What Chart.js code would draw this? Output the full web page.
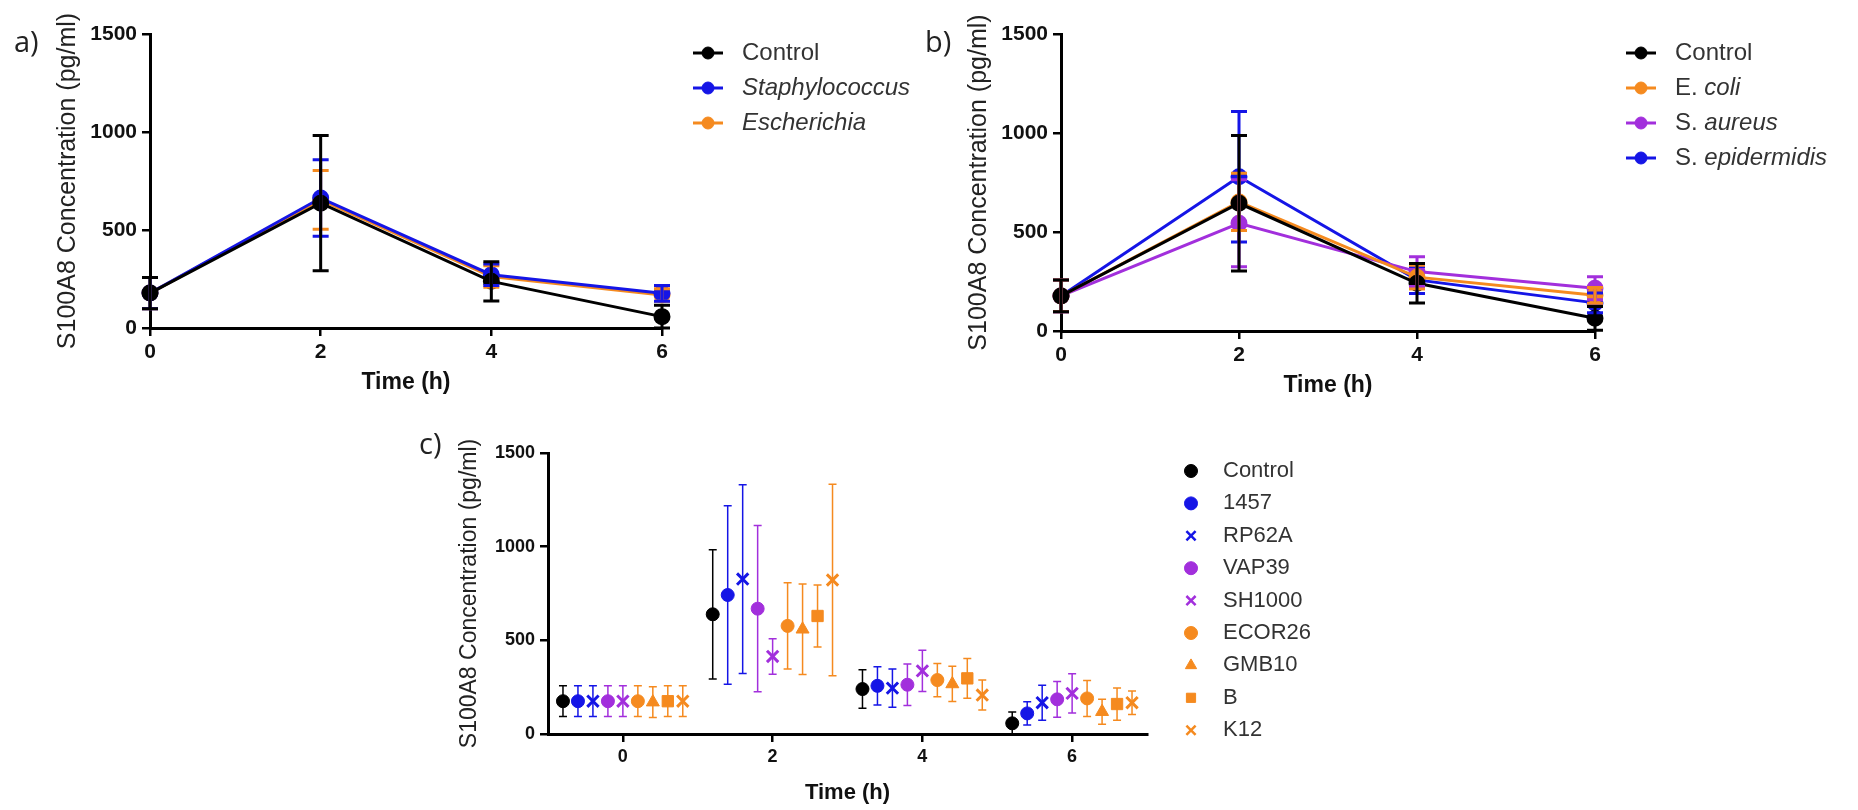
<!DOCTYPE html>
<html lang="en">
<head>
  <meta charset="UTF-8"/>
  <title>S100A8 concentration over time</title>
  <script src="https://cdn.jsdelivr.net/npm/chart.js"></script>
  <style>
    html, body { margin: 0; padding: 0; background: #fff; }
    body { width: 1858px; height: 810px; position: relative; overflow: hidden; }
    canvas { position: absolute; left: 0; top: 0; }
    .tag { position: absolute; font-family: 'Open Sans', 'Liberation Sans', sans-serif; font-size: 29px; color: #222; line-height: 1; }
  </style>
</head>
<body>
  <canvas id="chartA" width="1858" height="810"></canvas>
  <canvas id="chartB" width="1858" height="810"></canvas>
  <canvas id="chartC" width="1858" height="810"></canvas>
  <div class="tag" style="left:14px;top:26px">a)</div>
  <div class="tag" style="left:925px;top:26px">b)</div>
  <div class="tag" style="left:419px;top:428px">c)</div>

  <script>
    // --- data (pg/ml, mean and SD) ---
    const times = [0, 2, 4, 6];
    const yTicks = [0, 500, 1000, 1500];

    // a) by genus
    const aNames = ['Control', 'Staphylococcus', 'Escherichia'];
    const aControl = [178, 637, 238, 58];
    const aControlSd = [80, 345, 100, 58];
    const aStaph = [178, 663, 272, 177];
    const aStaphSd = [80, 195, 55, 40];
    const aEsch = [178, 654, 263, 168];
    const aEschSd = [80, 150, 55, 32];

    // b) by species
    const bNames = ['Control', 'E. coli', 'S. aureus', 'S. epidermidis'];
    const bControl = [177, 645, 241, 64];
    const bControlSd = [80, 342, 100, 60];
    const bEcoli = [177, 652, 272, 180];
    const bEcoliSd = [80, 145, 60, 40];
    const bAureus = [177, 544, 300, 216];
    const bAureusSd = [80, 220, 75, 58];
    const bEpi = [177, 779, 258, 142];
    const bEpiSd = [80, 330, 68, 50];

    // c) by strain
    const cNames = ['Control', '1457', 'RP62A', 'VAP39', 'SH1000', 'ECOR26', 'GMB10', 'B', 'K12'];
    const cControl = [175, 639, 240, 57];
    const cControlSd = [82, 345, 103, 60];
    const c1457 = [175, 742, 257, 110];
    const c1457Sd = [82, 477, 102, 62];
    const cRP62A = [175, 827, 245, 167];
    const cRP62ASd = [82, 504, 102, 93];
    const cVAP39 = [175, 669, 263, 185];
    const cVAP39Sd = [82, 444, 111, 95];
    const cSH1000 = [175, 414, 337, 217];
    const cSH1000Sd = [82, 95, 110, 105];
    const cECOR26 = [175, 577, 288, 190];
    const cECOR26Sd = [82, 230, 89, 96];
    const cGMB10 = [170, 559, 267, 119];
    const cGMB10Sd = [82, 242, 94, 67];
    const cB = [175, 630, 297, 160];
    const cBSd = [82, 165, 106, 86];
    const cK12 = [175, 822, 208, 167];
    const cK12Sd = [82, 511, 80, 63];

    // --- styling ---
    const BLACK = '#000000', BLUE = '#1515e6', ORANGE = '#f58a1f', PURPLE = '#a22fdc';
    const SANS = "'Liberation Sans', Arial, sans-serif";

    const pts = vals => vals.map((v, i) => ({ x: times[i], y: v }));
    // strains are spread side by side around each time point
    const dodged = (vals, k, n) => vals.map((v, i) => ({ x: times[i] + (k - (n - 1) / 2) * 0.2, y: v }));

    const errorBars = {
      id: 'errorBars',
      afterDatasetsDraw(chart, args, o) {
        const { ctx, scales: { x, y } } = chart;
        ctx.save();
        ctx.lineWidth = o.width;
        for (let d = chart.data.datasets.length - 1; d >= 0; d--) {
          const ds = chart.data.datasets[d];
          if (!ds.errors) continue;
          ctx.strokeStyle = ds.errColor;
          ds.data.forEach((p, i) => {
            const e = ds.errors[i];
            const px = x.getPixelForValue(p.x);
            const top = y.getPixelForValue(p.y + e);
            const bot = y.getPixelForValue(Math.max(p.y - e, 0));
            ctx.beginPath();
            ctx.moveTo(px, top); ctx.lineTo(px, bot);
            ctx.moveTo(px - o.cap, top); ctx.lineTo(px + o.cap, top);
            ctx.moveTo(px - o.cap, bot); ctx.lineTo(px + o.cap, bot);
            ctx.stroke();
          });
        }
        ctx.restore();
      }
    };

    const sideLegend = {
      id: 'sideLegend',
      afterDraw(chart, args, o) {
        const ctx = chart.ctx;
        ctx.save();
        chart.data.datasets.forEach((ds, i) => {
          const y = o.top + i * o.row;
          ctx.strokeStyle = ds.errColor;
          ctx.fillStyle = ds.errColor;
          if (o.line) {
            ctx.lineWidth = 3;
            ctx.beginPath();
            ctx.moveTo(o.markerX - o.line / 2, y);
            ctx.lineTo(o.markerX + o.line / 2, y);
            ctx.stroke();
          }
          ctx.lineWidth = ds.pointStyle === 'crossRot' ? 2.5 : 1;
          Chart.helpers.drawPoint(ctx, {
            pointStyle: ds.pointStyle || 'circle',
            radius: o.radius || ds.pointRadius,
            rotation: 0,
            borderWidth: ctx.lineWidth
          }, o.markerX, y);

          // label, with italic genus/species names
          const label = ds.label;
          let parts = [[label, false]];
          if (o.italic === 'all' && label !== 'Control') parts = [[label, true]];
          if (o.italic === 'species' && label.indexOf('. ') > 0) {
            const k = label.indexOf('. ') + 2;
            parts = [[label.slice(0, k), false], [label.slice(k), true]];
          }
          ctx.fillStyle = '#333';
          ctx.textBaseline = 'middle';
          ctx.textAlign = 'left';
          let tx = o.textX;
          parts.forEach(([txt, it]) => {
            ctx.font = (it ? 'italic ' : '') + o.size + 'px ' + SANS;
            ctx.fillText(txt, tx, y);
            tx += ctx.measureText(txt).width;
          });
        });
        ctx.restore();
      }
    };

    function axes(o) {
      return {
        x: {
          type: 'linear', min: o.xMin, max: o.xMax,
          afterBuildTicks: s => { s.ticks = times.map(v => ({ value: v })); },
          afterFit: s => { s.height = o.xHeight; },
          grid: { drawOnChartArea: false, drawTicks: true, tickLength: 8, color: '#000', lineWidth: 2.5 },
          border: { color: '#000', width: 3 },
          ticks: { color: '#111', padding: 4, maxRotation: 0, callback: v => String(v),
                   font: { family: SANS, size: o.tick, weight: 'bold' } },
          title: { display: true, text: 'Time (h)', color: '#111', padding: 0, font: { family: SANS, size: o.xTitle, weight: 'bold' } }
        },
        y: {
          type: 'linear', min: 0, max: 1500,
          afterBuildTicks: s => { s.ticks = yTicks.map(v => ({ value: v })); },
          afterFit: s => { s.width = o.yWidth; },
          grid: { drawOnChartArea: false, drawTicks: true, tickLength: 8, color: '#000', lineWidth: 2.5 },
          border: { color: '#000', width: 3 },
          ticks: { color: '#111', padding: 5, callback: v => String(v),
                   font: { family: SANS, size: o.tick, weight: 'bold' } },
          title: { display: true, text: 'S100A8 Concentration (pg/ml)', color: '#222', padding: { top: o.yTitlePad, bottom: 0 },
                   font: { family: SANS, size: o.yTitle, weight: 'normal' } }
        }
      };
    }

    function lineSet(label, vals, sd, color) {
      return {
        label, data: pts(vals), errors: sd, errColor: color,
        borderColor: color, backgroundColor: color,
        pointBackgroundColor: color, pointBorderColor: color,
        borderWidth: 3, pointRadius: 7, pointStyle: 'circle', tension: 0, clip: false
      };
    }

    function dotSet(label, vals, sd, color, style, k) {
      const radius = { circle: 6.5, crossRot: 8, triangle: 7.5, rect: 8 }[style];
      return {
        label, data: dodged(vals, k, cNames.length), errors: sd, errColor: color,
        backgroundColor: color, borderColor: color,
        borderWidth: style === 'crossRot' ? 3 : 1,
        pointStyle: style, pointRadius: radius, clip: false
      };
    }

    const base = {
      responsive: false, animation: false, devicePixelRatio: 1,
      events: []
    };

    // a)
    new Chart(document.getElementById('chartA'), {
      type: 'line',
      data: {
        datasets: [
          lineSet(aNames[0], aControl, aControlSd, BLACK),
          lineSet(aNames[1], aStaph, aStaphSd, BLUE),
          lineSet(aNames[2], aEsch, aEschSd, ORANGE)
        ]
      },
      options: Object.assign({}, base, {
        layout: { padding: { left: 0, top: 34, right: 1858 - 662, bottom: 810 - 328 - 68 } },
        scales: axes({ xMin: 0, xMax: 6, xHeight: 68, yWidth: 150, tick: 21, xTitle: 23, yTitle: 25, yTitlePad: 53 }),
        plugins: {
          legend: { display: false }, tooltip: { enabled: false },
          errorBars: { width: 3, cap: 8 },
          sideLegend: { markerX: 708, textX: 742, top: 53, row: 35, size: 24, line: 30, radius: 6, italic: 'all' }
        }
      }),
      plugins: [errorBars, sideLegend]
    });

    // b)
    new Chart(document.getElementById('chartB'), {
      type: 'line',
      data: {
        datasets: [
          lineSet(bNames[0], bControl, bControlSd, BLACK),
          lineSet(bNames[1], bEcoli, bEcoliSd, ORANGE),
          lineSet(bNames[2], bAureus, bAureusSd, PURPLE),
          lineSet(bNames[3], bEpi, bEpiSd, BLUE)
        ]
      },
      options: Object.assign({}, base, {
        layout: { padding: { left: 911, top: 34, right: 1858 - 1595, bottom: 810 - 331 - 68 } },
        scales: axes({ xMin: 0, xMax: 6, xHeight: 68, yWidth: 150, tick: 21, xTitle: 23, yTitle: 25, yTitlePad: 53 }),
        plugins: {
          legend: { display: false }, tooltip: { enabled: false },
          errorBars: { width: 3, cap: 8 },
          sideLegend: { markerX: 1641, textX: 1675, top: 53, row: 35, size: 24, line: 30, radius: 6, italic: 'species' }
        }
      }),
      plugins: [errorBars, sideLegend]
    });

    // c)
    new Chart(document.getElementById('chartC'), {
      type: 'scatter',
      data: {
        datasets: [
          dotSet(cNames[0], cControl, cControlSd, BLACK, 'circle', 0),
          dotSet(cNames[1], c1457, c1457Sd, BLUE, 'circle', 1),
          dotSet(cNames[2], cRP62A, cRP62ASd, BLUE, 'crossRot', 2),
          dotSet(cNames[3], cVAP39, cVAP39Sd, PURPLE, 'circle', 3),
          dotSet(cNames[4], cSH1000, cSH1000Sd, PURPLE, 'crossRot', 4),
          dotSet(cNames[5], cECOR26, cECOR26Sd, ORANGE, 'circle', 5),
          dotSet(cNames[6], cGMB10, cGMB10Sd, ORANGE, 'triangle', 6),
          dotSet(cNames[7], cB, cBSd, ORANGE, 'rect', 7),
          dotSet(cNames[8], cK12, cK12Sd, ORANGE, 'crossRot', 8)
        ]
      },
      options: Object.assign({}, base, {
        layout: { padding: { left: 418, top: 453, right: 1858 - 1147, bottom: 810 - 734 - 72 } },
        scales: axes({ xMin: -1, xMax: 7, xHeight: 72, yWidth: 130, tick: 18, xTitle: 22, yTitle: 23, yTitlePad: 38 }),
        plugins: {
          legend: { display: false }, tooltip: { enabled: false },
          errorBars: { width: 1.5, cap: 4 },
          sideLegend: { markerX: 1191, textX: 1223, top: 471, row: 32.4, size: 22, line: 0, radius: 6.5, italic: 'none' }
        }
      }),
      plugins: [errorBars, sideLegend]
    });
  </script>
</body>
</html>
